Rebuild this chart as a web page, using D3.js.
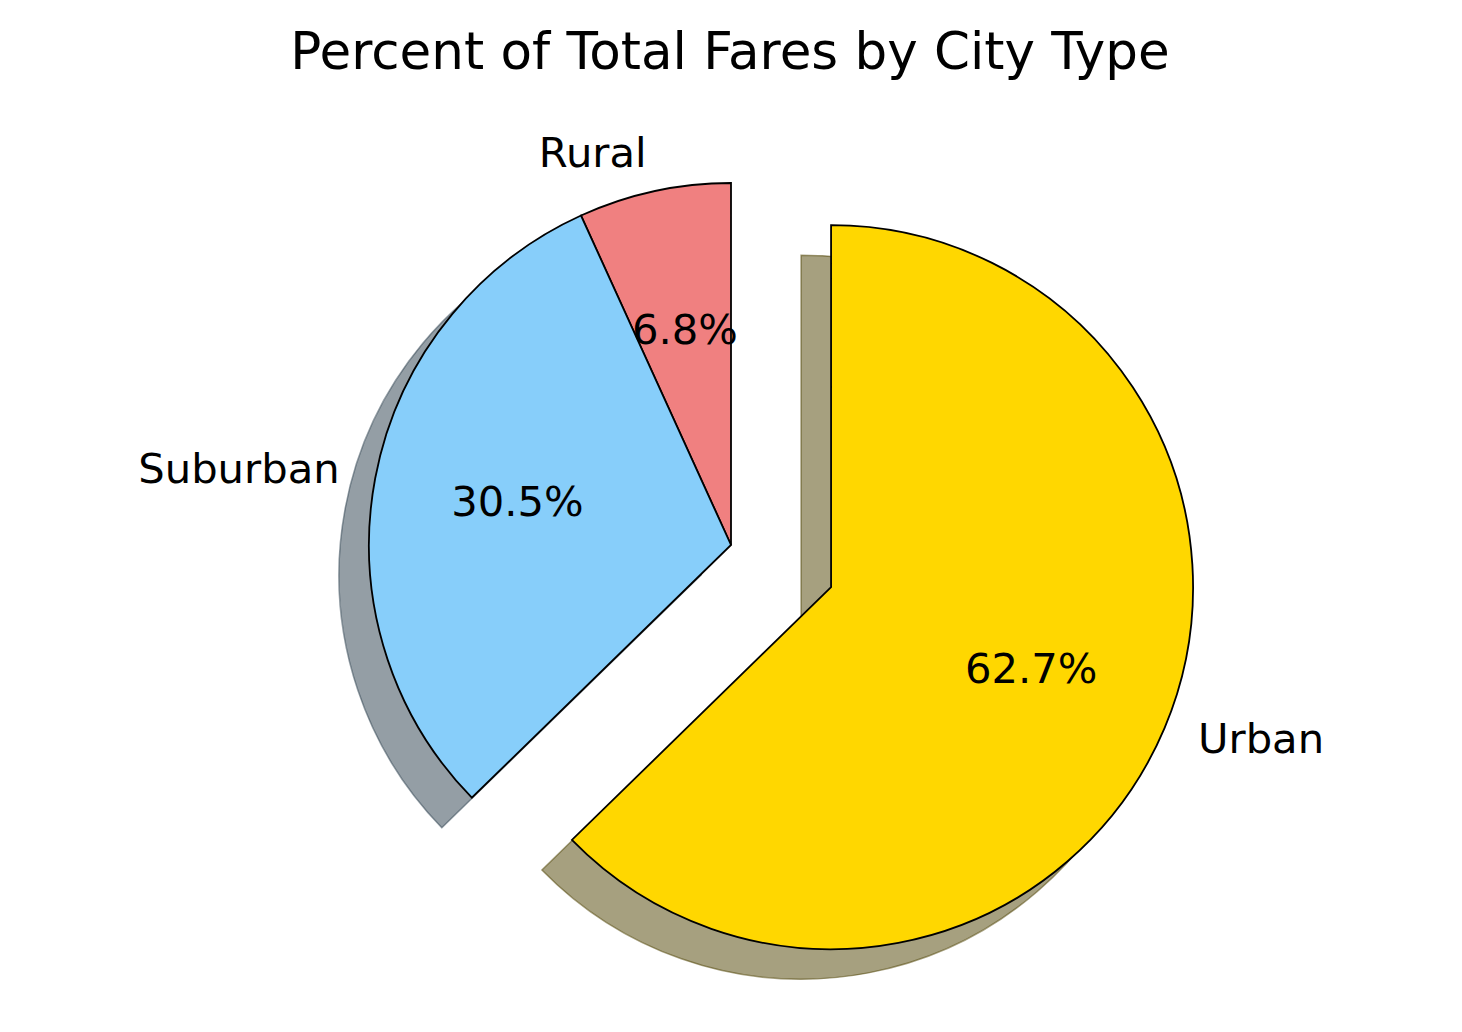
<!DOCTYPE html>
<html>
<head>
<meta charset="utf-8">
<script src="https://cdn.jsdelivr.net/npm/d3@7"></script>
<style>
  body { margin: 0; background: #fff; }
  text { font-family: "DejaVu Sans", sans-serif; fill: #000; }
</style>
</head>
<body>
<svg id="chart" width="1462" height="1032"></svg>
<script>
// data
var cityTypes = ["Rural", "Suburban", "Urban"];
var farePercents = [6.8, 30.5, 62.7];
var sliceColors = ["lightcoral", "lightskyblue", "gold"];
var explodeBy = [0, 0, 0.3];
var chartTitle = "Percent of Total Fares by City Type";

var svg = d3.select("#chart");
var cx = 731, cy = 545;
var radius = d3.scaleLinear().domain([0, 1]).range([0, 362]);
var shadowDx = -30, shadowDy = 30;

var rows = cityTypes.map(function(name, i) {
  return { name: name, value: farePercents[i], color: sliceColors[i], explode: explodeBy[i] };
});

// start at 12 o'clock, go counter-clockwise like matplotlib startangle=90
var pie = d3.pie().sort(null).value(function(d) { return d.value; })
  .startAngle(0).endAngle(-2 * Math.PI);
var arcs = pie(rows);

var arc = d3.arc().innerRadius(0).outerRadius(radius(1));

function offsetOf(a, frac) {
  var mid = (a.startAngle + a.endAngle) / 2;
  return [Math.sin(mid) * radius(frac), -Math.cos(mid) * radius(frac)];
}

arcs.forEach(function(a) {
  var o = offsetOf(a, a.data.explode);
  a.ox = cx + o[0];
  a.oy = cy + o[1];
});

function darker(c) {
  var rgb = d3.rgb(c);
  return d3.rgb(rgb.r * 0.3, rgb.g * 0.3, rgb.b * 0.3).toString();
}

// shadows behind everything
svg.append("g").selectAll("path.shadow")
  .data(arcs).enter().append("path")
  .attr("class", "shadow")
  .attr("d", arc)
  .attr("transform", function(a) { return "translate(" + (a.ox + shadowDx) + "," + (a.oy + shadowDy) + ")"; })
  .attr("fill", function(a) { return darker(a.data.color); })
  .attr("fill-opacity", 0.5)
  .attr("stroke", function(a) { return darker(a.data.color); })
  .attr("stroke-opacity", 0.5)
  .attr("stroke-width", 1.5)
  .attr("stroke-linejoin", "miter");

svg.append("g").selectAll("path.wedge")
  .data(arcs).enter().append("path")
  .attr("class", "wedge")
  .attr("d", arc)
  .attr("transform", function(a) { return "translate(" + a.ox + "," + a.oy + ")"; })
  .attr("fill", function(a) { return a.data.color; })
  .attr("stroke", "#000")
  .attr("stroke-width", 1.8)
  .attr("stroke-linejoin", "miter");

// category labels at 1.1 r
svg.append("g").selectAll("text")
  .data(arcs).enter().append("text")
  .attr("x", function(a) { return a.ox + offsetOf(a, 1.1)[0]; })
  .attr("y", function(a) { return a.oy + offsetOf(a, 1.1)[1] - 3; })
  .attr("text-anchor", function(a) { return offsetOf(a, 1.1)[0] < 0 ? "end" : "start"; })
  .attr("dominant-baseline", "central")
  .style("font-size", "41.7px")
  .text(function(a) { return a.data.name; });

// percent labels at 0.6 r
svg.append("g").selectAll("text")
  .data(arcs).enter().append("text")
  .attr("x", function(a) { return a.ox + offsetOf(a, 0.6)[0]; })
  .attr("y", function(a) { return a.oy + offsetOf(a, 0.6)[1] - 3; })
  .attr("text-anchor", "middle")
  .attr("dominant-baseline", "central")
  .style("font-size", "41.7px")
  .text(function(a) { return d3.format(".1f")(a.data.value) + "%"; });

svg.append("text")
  .attr("x", 730)
  .attr("y", 51)
  .attr("text-anchor", "middle")
  .attr("dominant-baseline", "central")
  .style("font-size", "51.5px")
  .text(chartTitle);
</script>
</body>
</html>
